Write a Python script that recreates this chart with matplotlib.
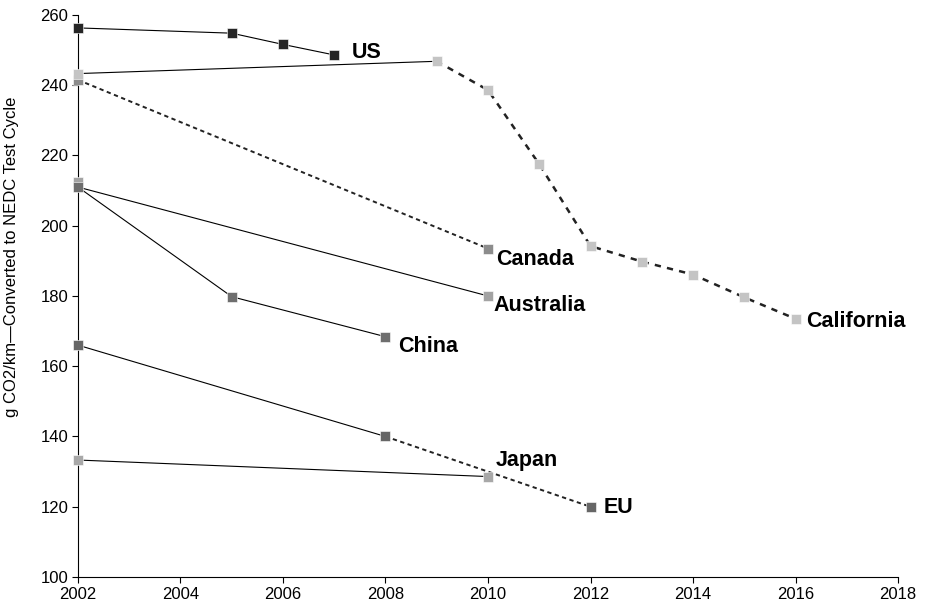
import matplotlib
matplotlib.use("Agg")
import matplotlib.pyplot as plt

plt.rcParams['font.family'] = ['Liberation Sans', 'DejaVu Sans']

# values (g CO2/km, NEDC)
us_years = [2002, 2005, 2006, 2007]
us_vals = [256.3, 254.8, 251.6, 248.6]

cal_solid_years = [2002, 2009]
cal_solid_vals = [243.3, 246.8]
cal_dash_years = [2009, 2010, 2011, 2012, 2013, 2014, 2015, 2016]
cal_dash_vals = [246.8, 238.6, 217.5, 194.2, 189.8, 186.1, 179.6, 173.5]

can_years = [2002, 2010]
can_vals = [241.5, 193.5]

aus_years = [2002, 2010]
aus_vals = [212.5, 180.0]

chn_years = [2002, 2005, 2008]
chn_vals = [211.0, 179.8, 168.4]

eu_solid_years = [2002, 2008]
eu_solid_vals = [166.0, 140.0]
eu_dash_years = [2008, 2012]
eu_dash_vals = [140.0, 120.0]

jpn_years = [2002, 2010]
jpn_vals = [133.3, 128.6]

x_ticks = list(range(2002, 2019, 2))
y_ticks = list(range(100, 261, 20))

fig = plt.figure(figsize=(9.26, 6.11), dpi=100)
ax = fig.add_axes([0.0842, 0.0556, 0.8856, 0.92])

ms = 7
line_kw = dict(color='black', lw=0.8, zorder=2)
dash_kw = dict(color='#222222', lw=1.8, ls=(0, (2.5, 2.5)), zorder=2)
thin_dash_kw = dict(color='#222222', lw=1.4, ls=(0, (2.2, 1.8)), zorder=2)

def marks(xs, ys, color):
    ax.plot(xs, ys, ls='none', marker='s', ms=ms, mfc=color, mec='white',
            mew=0.4, zorder=3, clip_on=False)

# lines
ax.plot(us_years, us_vals, **line_kw)
ax.plot(cal_solid_years, cal_solid_vals, **line_kw)
ax.plot(cal_dash_years, cal_dash_vals, **dash_kw)
ax.plot(can_years, can_vals, **thin_dash_kw)
ax.plot([aus_years[0], aus_years[1]], [chn_vals[0], aus_vals[1]], **line_kw)
ax.plot(chn_years, chn_vals, **line_kw)
ax.plot(eu_solid_years, eu_solid_vals, **line_kw)
ax.plot(eu_dash_years, eu_dash_vals, **thin_dash_kw)
ax.plot(jpn_years, jpn_vals, **line_kw)

# markers
marks(us_years, us_vals, '#262626')
marks(can_years, can_vals, '#8c8c8c')
marks(cal_solid_years + cal_dash_years[1:], cal_solid_vals + cal_dash_vals[1:], '#c4c4c4')
marks(aus_years, aus_vals, '#a3a3a3')
marks(chn_years, chn_vals, '#6e6e6e')
marks(eu_solid_years + eu_dash_years[1:], eu_solid_vals + eu_dash_vals[1:], '#666666')
marks(jpn_years, jpn_vals, '#a8a8a8')

# direct labels
lab_kw = dict(fontsize=15.5, fontweight='bold', color='black')
ax.text(2007.35, us_vals[-1] + 0.6, 'US', va='center', ha='left', **lab_kw)
ax.text(2010.15, can_vals[-1] - 0.2, 'Canada', va='top', ha='left', **lab_kw)
ax.text(2010.1, aus_vals[-1] + 0.3, 'Australia', va='top', ha='left', **lab_kw)
ax.text(2008.25, chn_vals[-1] + 0.3, 'China', va='top', ha='left', **lab_kw)
ax.text(2010.15, jpn_vals[-1] + 1.6, 'Japan', va='bottom', ha='left', **lab_kw)
ax.text(2012.25, eu_dash_vals[-1] - 0.3, 'EU', va='center', ha='left', **lab_kw)
ax.text(2016.2, cal_dash_vals[-1] - 0.8, 'California', va='center', ha='left', **lab_kw)

ax.set_xlim(2002, 2018)
ax.set_ylim(100, 260)
ax.set_xticks(x_ticks)
ax.set_yticks(y_ticks)
ax.tick_params(labelsize=12, length=4, width=0.8, direction='out', pad=3)
ax.spines['top'].set_visible(False)
ax.spines['right'].set_visible(False)
ax.spines['left'].set_linewidth(0.8)
ax.spines['bottom'].set_linewidth(0.8)
ax.set_ylabel('g CO2/km\u2014Converted to NEDC Test Cycle', fontsize=12)
ax.yaxis.set_label_coords(-0.072, 0.57)

fig.savefig('out.png', dpi=100)
